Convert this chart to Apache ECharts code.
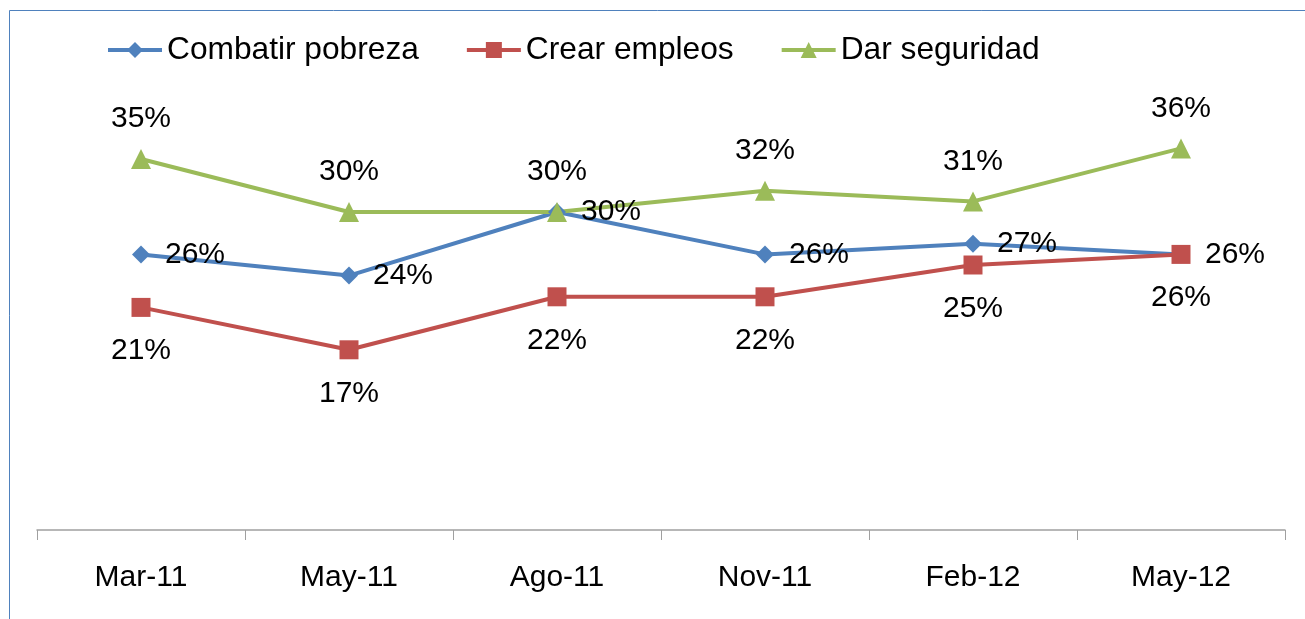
<!DOCTYPE html>
<html>
<head>
<meta charset="utf-8">
<title>Prioridades</title>
<script src="https://cdn.jsdelivr.net/npm/echarts@6/dist/echarts.min.js"></script>
<style>
    html, body { margin: 0; padding: 0; background: #fff; }
    #myLineChat { width: 1305px; height: 619px; }
</style>
</head>
<body>
<div id="myLineChat"></div>
<script>
// datos
var categorias = ['Mar-11', 'May-11', 'Ago-11', 'Nov-11', 'Feb-12', 'May-12'];
var combatirPobreza = [26, 24, 30, 26, 27, 26];
var crearEmpleos = [21, 17, 22, 22, 25, 26];
var darSeguridad = [35, 30, 30, 32, 31, 36];

var fuente = '"Liberation Sans", Arial, sans-serif';

var line = document.getElementById("myLineChat");
var myLine = echarts.init(line);
window.onresize = myLine.resize;
var option;

function serie(name, data, color, symbol, size, pos, dist) {
    return {
        name: name,
        type: 'line',
        data: data,
        symbol: symbol,
        symbolSize: size,
        lineStyle: { width: 4, color: color },
        itemStyle: { color: color },
        label: {
            show: true,
            position: pos,
            distance: dist,
            formatter: '{c}%',
            color: '#000',
            fontSize: 30,
            fontFamily: fuente
        },
        emphasis: { disabled: true },
        animation: false
    };
}

option = {
    backgroundColor: '#FFF',
    graphic: [{
        type: 'rect',
        shape: { x: 9.5, y: 10.5, width: 1400, height: 700 },
        style: { fill: 'none', stroke: '#4f81bd', lineWidth: 1 }
    }],
    legend: {
        top: 34,
        left: 106,
        padding: 0,
        itemWidth: 54,
        itemHeight: 20,
        itemGap: 46,
        lineStyle: { width: 4 },
        textStyle: {
            color: '#000',
            fontSize: 31.7,
            fontFamily: fuente
        },
        data: ['Combatir pobreza', 'Crear empleos', 'Dar seguridad']
    },
    grid: {
        top: 0,
        bottom: 89,
        left: 37,
        right: 20
    },
    xAxis: {
        type: 'category',
        boundaryGap: true,
        data: categorias,
        axisLine: {
            lineStyle: { color: '#a0a0a0', width: 1.5 }
        },
        axisTick: {
            show: true,
            length: 10,
            lineStyle: { color: '#a0a0a0' }
        },
        axisLabel: {
            margin: 33,
            color: '#000',
            fontSize: 30,
            fontFamily: fuente
        },
        splitLine: { show: false }
    },
    yAxis: {
        type: 'value',
        show: false,
        min: 0,
        max: 50,
        splitLine: { show: false }
    },
    series: [
        serie('Combatir pobreza', combatirPobreza, '#4f81bd', 'diamond', 18, 'right', 15),
        serie('Crear empleos', crearEmpleos, '#c0504d', 'rect', 19, 'bottom', 19),
        serie('Dar seguridad', darSeguridad, '#9bbb59', 'triangle', 20, 'top', 15)
    ]
};

if (option && typeof option === "object") {
    myLine.setOption(option);
}
</script>
</body>
</html>
